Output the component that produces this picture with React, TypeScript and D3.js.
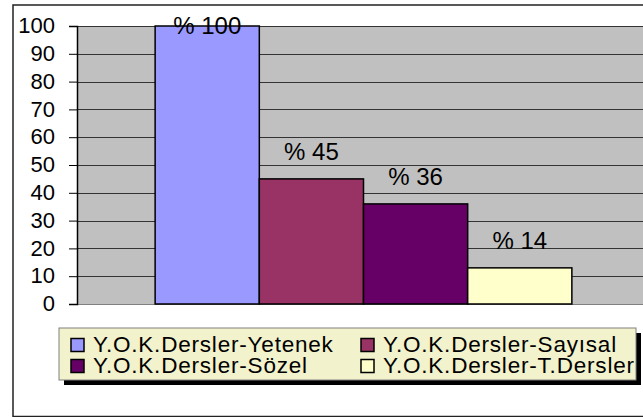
import React, { useEffect, useRef } from "react";
import * as d3 from "d3";

// values
const series = [
  "Y.O.K.Dersler-Yetenek",
  "Y.O.K.Dersler-Sayısal",
  "Y.O.K.Dersler-Sözel",
  "Y.O.K.Dersler-T.Dersler",
];
const values = [100, 45, 36, 13];
const valueLabels = ["% 100", "% 45", "% 36", "% 14"];
const colors = ["#9999FF", "#993366", "#660066", "#FFFFCC"];
const yTicks = [0, 10, 20, 30, 40, 50, 60, 70, 80, 90, 100];

const W = 643;
const H = 417;

function App() {
  const ref = useRef<SVGSVGElement>(null);

  useEffect(() => {
    drawChart();
  }, []);

  function drawChart() {
    const svg = d3.select(ref.current);
    svg.selectAll("*").remove();
    const font = "'Liberation Sans', Arial, sans-serif";

    // outer chart frame (cropped on the right)
    svg
      .append("rect")
      .attr("x", 13)
      .attr("y", 5)
      .attr("width", 700)
      .attr("height", 411.5)
      .attr("fill", "#fff")
      .attr("stroke", "#222")
      .attr("stroke-width", 1.5);

    const plot = { left: 77, right: 650, top: 26, bottom: 304 };

    const x = d3
      .scaleBand()
      .domain(series)
      .range([plot.left, plot.right])
      .paddingInner(0)
      .paddingOuter(0.75);

    const y = d3.scaleLinear().domain([0, 100]).range([plot.bottom, plot.top]);

    svg
      .append("rect")
      .attr("x", plot.left)
      .attr("y", plot.top)
      .attr("width", plot.right - plot.left)
      .attr("height", plot.bottom - plot.top)
      .attr("fill", "#C0C0C0");

    // gridlines
    svg
      .append("g")
      .selectAll("line")
      .data(yTicks)
      .join("line")
      .attr("x1", plot.left)
      .attr("x2", plot.right)
      .attr("y1", (d) => Math.round(y(d)) + 0.5)
      .attr("y2", (d) => Math.round(y(d)) + 0.5)
      .attr("stroke", (d) => (d === 0 ? "#808080" : "#333"))
      .attr("stroke-width", 1);

    // y axis
    const axis = svg
      .append("g")
      .attr("transform", `translate(${plot.left},0)`)
      .call(d3.axisLeft(y).tickValues(yTicks).tickSize(8).tickPadding(14));
    axis.select(".domain").attr("stroke", "#000").attr("stroke-width", 1.5);
    axis.selectAll(".tick line").attr("stroke", "#000");
    axis
      .selectAll(".tick text")
      .attr("font-family", font)
      .attr("font-size", 22)
      .attr("fill", "#000")
      .attr("dy", "0.3em");

    // bars
    svg
      .append("g")
      .selectAll("rect")
      .data(series)
      .join("rect")
      .attr("x", (d) => x(d)!)
      .attr("y", (d, i) => y(values[i]))
      .attr("width", x.bandwidth())
      .attr("height", (d, i) => y(0) - y(values[i]))
      .attr("fill", (d, i) => colors[i])
      .attr("stroke", "#000")
      .attr("stroke-width", 1.5);

    // value labels
    svg
      .append("g")
      .selectAll("text")
      .data(series)
      .join("text")
      .attr("x", (d) => x(d)! + x.bandwidth() / 2)
      .attr("y", (d, i) => Math.max(y(values[i]) - 19, 34))
      .attr("text-anchor", "middle")
      .attr("font-family", font)
      .attr("font-size", 24)
      .attr("fill", "#000")
      .text((d, i) => valueLabels[i]);

    // legend
    const lg = { x: 59, y: 328, w: 577, h: 52 };
    svg
      .append("rect")
      .attr("x", lg.x + 5)
      .attr("y", lg.y + 5)
      .attr("width", lg.w)
      .attr("height", lg.h)
      .attr("fill", "#000");
    svg
      .append("rect")
      .attr("x", lg.x)
      .attr("y", lg.y)
      .attr("width", lg.w)
      .attr("height", lg.h)
      .attr("fill", "#F2F2CC")
      .attr("stroke", "#808080")
      .attr("stroke-width", 1);

    const item = svg
      .append("g")
      .selectAll("g")
      .data(series)
      .join("g")
      .attr(
        "transform",
        (d, i) => `translate(${i % 2 === 0 ? 71 : 361},${i < 2 ? 338.5 : 359.5})`
      );
    item
      .append("rect")
      .attr("width", 13)
      .attr("height", 13)
      .attr("fill", (d, i) => colors[i])
      .attr("stroke", "#000")
      .attr("stroke-width", 1.5);
    item
      .append("text")
      .attr("x", 22)
      .attr("y", 13)
      .attr("font-family", font)
      .attr("font-size", 22.5)
      .attr("letter-spacing", 0.8)
      .attr("fill", "#000")
      .text((d) => d);
  }

  return (
    <svg
      ref={ref}
      width={W}
      height={H}
      style={{ position: "absolute", left: 0, top: 0, display: "block" }}
    />
  );
}

export default App;
